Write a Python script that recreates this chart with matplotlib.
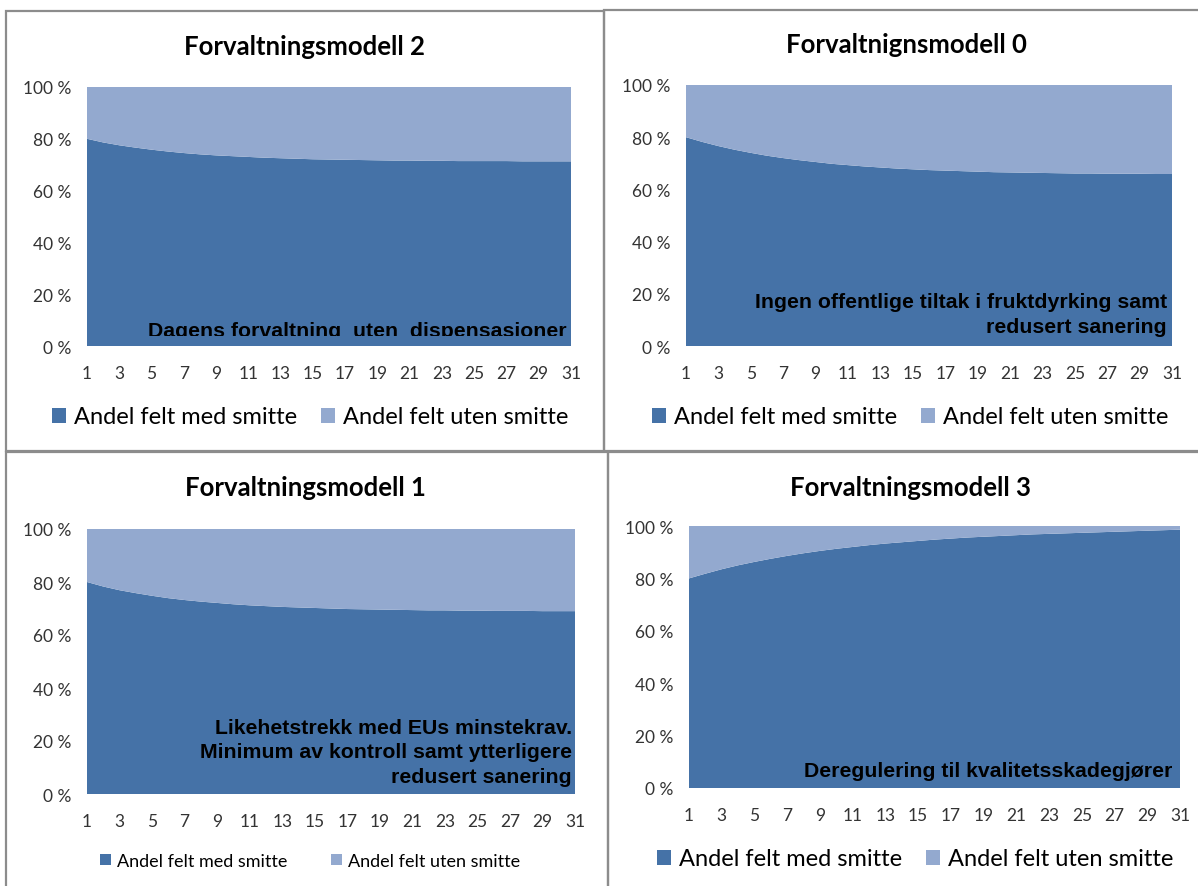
import matplotlib.pyplot as plt
from matplotlib.patches import Rectangle
from matplotlib.transforms import Bbox, TransformedBbox

years = list(range(1, 32))

# share of fields with infection (%), per model
modell_2 = [80.0, 78.6, 77.5, 76.6, 75.8, 75.1, 74.5, 74.0, 73.6, 73.3,
            73.0, 72.7, 72.5, 72.3, 72.1, 72.0, 71.9, 71.8, 71.7, 71.6,
            71.6, 71.5, 71.5, 71.4, 71.4, 71.4, 71.4, 71.3, 71.3, 71.3, 71.3]
modell_0 = [80.0, 78.2, 76.6, 75.2, 74.0, 72.9, 72.0, 71.2, 70.5, 69.8,
            69.3, 68.8, 68.4, 68.0, 67.7, 67.4, 67.2, 67.0, 66.8, 66.6,
            66.5, 66.4, 66.3, 66.2, 66.1, 66.1, 66.0, 66.0, 66.0, 65.9, 65.9]
modell_1 = [80.0, 78.3, 76.9, 75.8, 74.8, 73.9, 73.2, 72.6, 72.1, 71.6,
            71.2, 70.9, 70.6, 70.4, 70.2, 70.0, 69.8, 69.7, 69.6, 69.5,
            69.4, 69.3, 69.3, 69.2, 69.2, 69.1, 69.1, 69.1, 69.0, 69.0, 69.0]
modell_3 = [80.0, 81.8, 83.5, 85.0, 86.3, 87.5, 88.6, 89.6, 90.5, 91.3,
            92.0, 92.7, 93.3, 93.8, 94.3, 94.8, 95.2, 95.6, 95.9, 96.2,
            96.5, 96.8, 97.0, 97.2, 97.4, 97.6, 97.8, 98.0, 98.2, 98.4, 98.6]

titles = ['Forvaltningsmodell 2', 'Forvaltnignsmodell 0',
          'Forvaltningsmodell 1', 'Forvaltningsmodell 3']
notes = ['Dagens forvaltning  uten  dispensasjoner',
         'Ingen offentlige tiltak i fruktdyrking samt\nredusert sanering',
         'Likehetstrekk med EUs minstekrav.\nMinimum av kontroll samt ytterligere\nredusert sanering',
         'Deregulering til kvalitetsskadegjører']
series = [modell_2, modell_0, modell_1, modell_3]
legend_labels = ['Andel felt med smitte', 'Andel felt uten smitte']

dark = '#4572a7'
light = '#93a9cf'
W, H = 1198, 887

fig = plt.figure(figsize=(W / 100, H / 100), dpi=100)
fig.patch.set_facecolor('white')

# pixel layout: plot area (l, t, r, b), title centre, legend (cx, cy, size, colspacing), note anchor
panels = [
    dict(area=(87, 88, 571, 347), title=(304, 47), leg=(310, 418, 17, 1.0), note=(567, 337), clip=True),
    dict(area=(686, 86, 1172, 347), title=(906, 45), leg=(910, 418, 17, 1.0), note=(1167, 333), clip=False),
    dict(area=(87, 530, 575, 795), title=(305, 488), leg=(310, 862, 13, 2.4), note=(572, 783), clip=False),
    dict(area=(689, 527, 1180, 789), title=(910, 488), leg=(915, 860, 17, 1.0), note=(1172, 777), clip=False),
]

# frames around each chart
for (x0, y0, x1, y1) in [(6, 12, 604, 452), (604, 11, 1204, 452),
                         (6, 453, 608, 895), (608, 453, 1204, 895)]:
    fig.add_artist(Rectangle((x0 / W, 1 - y1 / H), (x1 - x0) / W, (y1 - y0) / H,
                             transform=fig.transFigure, fill=False,
                             edgecolor='#8c8c8c', linewidth=1.6))

for p, title, note, vals in zip(panels, titles, notes, series):
    l, t, r, b = p['area']
    ax = fig.add_axes([l / W, 1 - b / H, (r - l) / W, (b - t) / H])
    uten = [100 - v for v in vals]
    ax.stackplot(years, vals, uten, colors=[dark, light], labels=legend_labels,
                 linewidth=0)
    ax.set_xlim(1, 31)
    ax.set_ylim(0, 100)
    ax.set_xticks(years[::2])
    ax.set_yticks([0, 20, 40, 60, 80, 100])
    ax.set_yticklabels([f'{v} %' for v in [0, 20, 40, 60, 80, 100]])
    ax.tick_params(length=0, labelsize=12.5, colors='#333333', pad=11)
    ax.tick_params(axis='x', pad=14)
    for lab in ax.get_xticklabels() + ax.get_yticklabels():
        lab.set_fontfamily('Lato')
    for s in ax.spines.values():
        s.set_visible(False)

    tx, ty = p['title']
    fig.text(tx / W, 1 - ty / H, title, ha='center', va='center',
             fontsize=18.5, fontweight='bold', family='Lato')

    nx, ny = p['note']
    txt = fig.text(nx / W, 1 - ny / H, note, ha='right', va='baseline',
                   multialignment='right', fontsize=15.3, fontweight='bold',
                   family='Liberation Sans', color='black', linespacing=1.37)
    if p['clip']:
        txt.set_clip_box(TransformedBbox(Bbox([[0, 0.039], [1, 1]]), ax.transAxes))
        txt.set_clip_on(True)

    cx, cy, size, spacing = p['leg']
    ax.legend(loc='center', bbox_to_anchor=(cx / W, 1 - cy / H),
              bbox_transform=fig.transFigure, ncol=2, frameon=False,
              prop={'family': 'Lato', 'size': size}, handlelength=0.6,
              handleheight=0.6, handletextpad=0.35, columnspacing=spacing)

fig.savefig('out.png', dpi=100)
